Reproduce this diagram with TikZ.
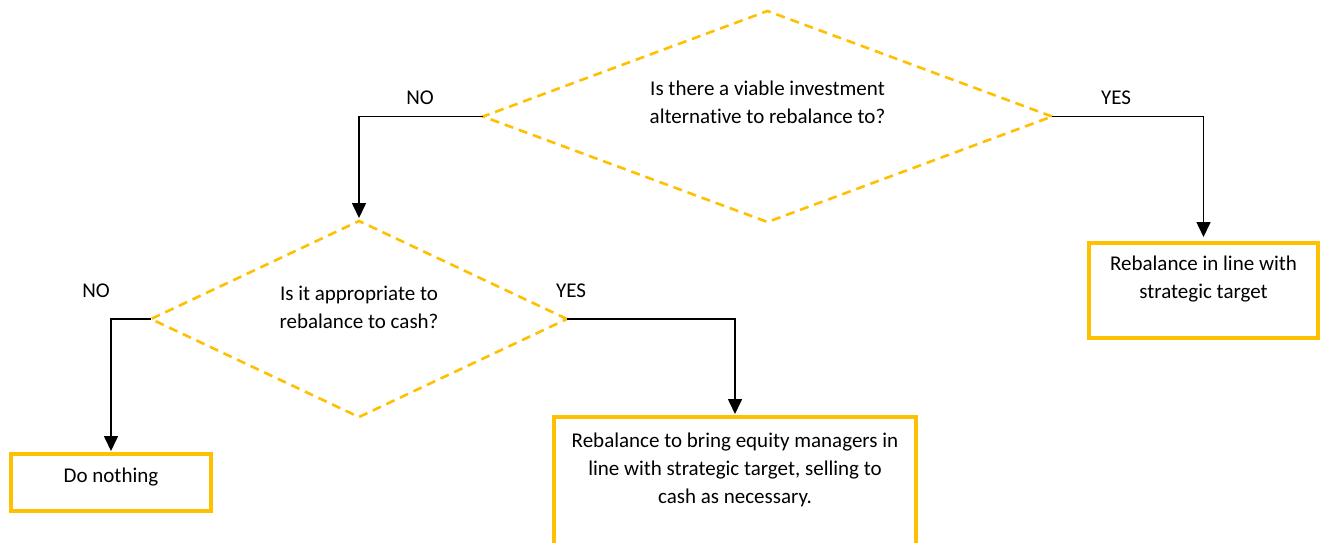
\documentclass[tikz,border=0pt]{standalone}
\usepackage{fontspec}
\setmainfont{Carlito}[Ligatures=NoCommon]
\usetikzlibrary{shapes.geometric,arrows.meta}
\definecolor{gold}{HTML}{FFC000}
\begin{document}
\begin{tikzpicture}[x=1pt,y=-1pt,
  every node/.style={font=\fontsize{21}{28}\selectfont, inner sep=0pt, outer sep=0pt},
  decision/.style={diamond, draw=gold, line width=2.6pt, dash pattern=on 9pt off 6pt},
  actionbox/.style={rectangle, draw=gold, line width=4pt},
  txt/.style={align=center},
  branch/.style={anchor=base},
  flow/.style={draw=black, line width=1.6pt, -{Triangle[width=14pt,length=15pt]}, shorten >=3pt}
]
\clip (0,0) rectangle (1330,542);
\fill[white] (0,0) rectangle (1330,542);

% decisions
\node[decision, minimum width=569pt, minimum height=211pt,
  label={[txt, yshift=14.7pt]center:Is there a viable investment\\alternative to rebalance to?}]
  (q1) at (767.5,116.5) {};
\node[decision, minimum width=416pt, minimum height=196pt,
  label={[txt, yshift=12pt]center:Is it appropriate to\\rebalance to cash?}]
  (q2) at (359,319) {};

% outcomes
\node[actionbox, minimum width=229pt, minimum height=95pt,
  label={[txt, anchor=north, yshift=-12.5pt]north:Rebalance in line with\\strategic target}]
  (strat) at (1203.5,290.5) {};
\node[actionbox, minimum width=200pt, minimum height=57pt,
  label={[txt, anchor=north, yshift=-13.5pt]north:Do nothing}]
  (none) at (111,482.5) {};
\node[actionbox, minimum width=362pt, minimum height=200pt,
  label={[txt, anchor=north, yshift=-15.5pt]north:Rebalance to bring equity managers in\\line with strategic target, selling to\\cash as necessary.}]
  (cash) at (735,517) {};

% connectors
\draw[flow] (q1.west) -| (q2.north);
\draw[flow, shorten >=6pt] (q1.east) -| (strat.north);
\draw[flow] (q2.west) -| (none.north);
\draw[flow] (q2.east) -| (cash.north);

% branch labels
\node[branch] (no1) at (420,104) {NO};
\node[branch] (yes1) at (1116,104) {YES};
\node[branch] (no2) at (96,297) {NO};
\node[branch] (yes2) at (571,297) {YES};
\end{tikzpicture}
\end{document}
